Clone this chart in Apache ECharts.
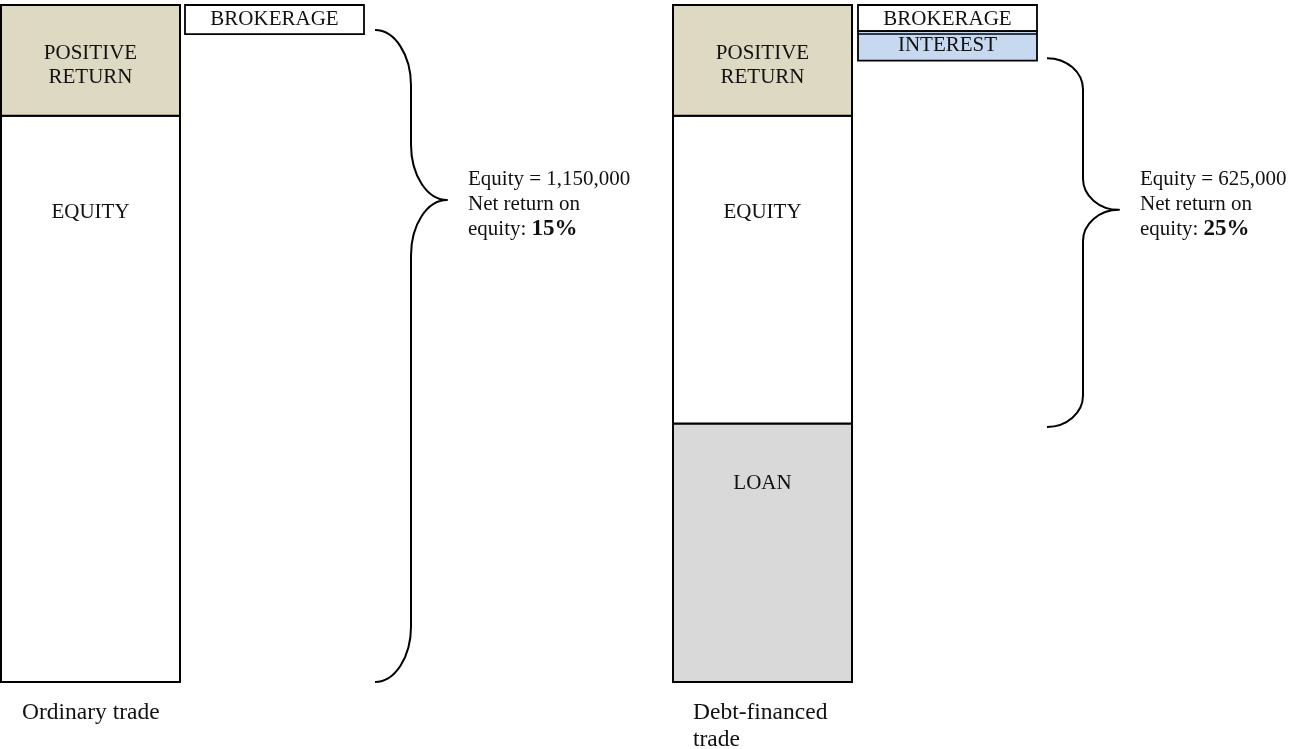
<!DOCTYPE html>
<html><head><meta charset="utf-8">
<script src="https://cdn.jsdelivr.net/npm/echarts@6/dist/echarts.min.js"></script>
<style>html,body{margin:0;padding:0;background:#fff}#chart{width:1290px;height:749px}</style>
</head><body><div id="chart"></div>
<script>
// ---- data ----
const categories = ['Ordinary trade', 'Debt-financed\ntrade'];
const loan = [0, 525000];
const equity = [1150000, 625000];
const positiveReturn = [225000, 225000];
const brokerage = [59000, 53000];
const interest = [0, 60000];
const equityAmountLabels = ['1,150,000', '625,000'];
const netReturnLabels = ['15%', '25%'];
const braceTop = [1324000, 1267000];
const braceTip = [979000, 959000];
const braceBottom = [0, 518000];
const segmentNames = ['LOAN', 'EQUITY', 'POSITIVE\nRETURN'];
const feeNames = ['BROKERAGE', 'INTEREST'];

// ---- layout / style (not data) ----
const layout = {
  barX: [[1, 180], [673, 852]],
  boxX: [[185, 364], [858, 1037]],
  braceX: [[375, 411, 447], [1047, 1083, 1119]],
  noteX: [468, 1140],
  noteY: 204,
  catX: [22, 693],
  catY: 699,
  segLabelOffset: [60, 97, 60]
};
const FONT = "'Liberation Serif','Times New Roman',serif";
const segFill = ['#d9d9d9', '#ffffff', '#ddd9c3'];
const feeFill = ['#ffffff', '#c6d9f1'];

// build item lists from data arrays
const blockData = [];
const feeData = [];
const braceData = [];
const catData = [];
categories.forEach((c, i) => {
  const segs = [loan[i], equity[i], positiveReturn[i]];
  let acc = 0;
  segs.forEach((v, s) => { blockData.push([i, s, acc, acc + v]); acc += v; });
  let top = acc;
  [brokerage[i], interest[i]].forEach((v, f) => { feeData.push([i, f, top - v, top]); top -= v; });
  braceData.push([i, braceTop[i], braceTip[i], braceBottom[i]]);
  catData.push([i, 0]);
});

function renderBlock(params, api) {
  const i = api.value(0), s = api.value(1), a = api.value(2), b = api.value(3);
  if (b - a <= 0) return null;
  const [x0, x1] = layout.barX[i];
  const p0 = api.coord([x0, b]);
  const p1 = api.coord([x1, a]);
  return {
    type: 'group',
    children: [
      { type: 'rect', shape: { x: p0[0], y: p0[1], width: p1[0] - p0[0], height: p1[1] - p0[1] },
        style: { fill: segFill[s], stroke: '#000', lineWidth: 2 } },
      { type: 'text', z2: 10,
        style: { text: segmentNames[s], x: (p0[0] + p1[0]) / 2, y: p0[1] + layout.segLabelOffset[s],
          align: 'center', verticalAlign: 'middle', font: '21px ' + FONT, fill: '#111', lineHeight: 24 } }
    ]
  };
}

function renderFee(params, api) {
  const i = api.value(0), f = api.value(1), a = api.value(2), b = api.value(3);
  if (b - a <= 0) return null;
  const [x0, x1] = layout.boxX[i];
  const p0 = api.coord([x0, b]);
  const p1 = api.coord([x1, a]);
  const children = [
    { type: 'rect', shape: { x: p0[0], y: p0[1], width: p1[0] - p0[0], height: p1[1] - p0[1] },
      style: { fill: feeFill[f], stroke: '#000', lineWidth: 1.8 } },
    { type: 'text', z2: 10,
      style: { text: feeNames[f], x: (p0[0] + p1[0]) / 2, y: p0[1] + 14,
        align: 'center', verticalAlign: 'middle', font: '21px ' + FONT, fill: '#111' } }
  ];
  if (f === 1) {
    children.push({ type: 'line', shape: { x1: p0[0], y1: p0[1] + 3, x2: p1[0], y2: p0[1] + 3 },
      style: { stroke: '#000', lineWidth: 1.5 } });
  }
  return { type: 'group', children };
}

function renderBrace(params, api) {
  const i = api.value(0);
  const [x0, xm, xt] = layout.braceX[i];
  const yT = api.coord([x0, api.value(1)])[1];
  const yP = api.coord([x0, api.value(2)])[1];
  const yB = api.coord([x0, api.value(3)])[1];
  const r = 0.085 * (yB - yT);
  const k = 0.552;
  const w1 = xm - x0, w2 = xt - xm;
  const f = (n) => n.toFixed(2);
  const d = [
    'M', f(x0), f(yT),
    'C', f(x0 + k * w1), f(yT), f(xm), f(yT + r - k * r), f(xm), f(yT + r),
    'L', f(xm), f(yP - r),
    'C', f(xm), f(yP - r + k * r), f(xt - k * w2), f(yP), f(xt), f(yP),
    'C', f(xt - k * w2), f(yP), f(xm), f(yP + r - k * r), f(xm), f(yP + r),
    'L', f(xm), f(yB - r),
    'C', f(xm), f(yB - r + k * r), f(x0 + k * w1), f(yB), f(x0), f(yB)
  ].join(' ');
  return {
    type: 'group',
    children: [
      { type: 'path', shape: { pathData: d },
        style: { stroke: '#000', lineWidth: 2, fill: null, lineJoin: 'round' } },
      { type: 'text', style: {
          text: 'Equity = ' + equityAmountLabels[i] + '\nNet return on\nequity: {b|' + netReturnLabels[i] + '}',
          x: layout.noteX[i], y: layout.noteY, align: 'left', verticalAlign: 'middle',
          font: '21px ' + FONT, fill: '#111', lineHeight: 25,
          rich: { b: { fontFamily: FONT, fontSize: 23, fontWeight: 'bold', fill: '#111', lineHeight: 25 } } } }
    ]
  };
}

function renderCat(params, api) {
  const i = api.value(0);
  return { type: 'text', style: { text: categories[i], x: layout.catX[i], y: layout.catY,
    align: 'left', verticalAlign: 'top', font: '23.5px ' + FONT, fill: '#111', lineHeight: 27 } };
}

const chart = echarts.init(document.getElementById('chart'), null, { renderer: 'canvas' });
chart.setOption({
  animation: false,
  backgroundColor: '#fff',
  grid: { left: 0, right: 0, top: 5, bottom: 67 },
  xAxis: { type: 'value', min: 0, max: 1290, show: false },
  yAxis: { type: 'value', min: 0, max: 1375000, show: false },
  series: [
    { type: 'custom', name: 'blocks', coordinateSystem: 'cartesian2d', renderItem: renderBlock, data: blockData, clip: false },
    { type: 'custom', name: 'fees', coordinateSystem: 'cartesian2d', renderItem: renderFee, data: feeData, clip: false },
    { type: 'custom', name: 'braces', coordinateSystem: 'cartesian2d', renderItem: renderBrace, data: braceData, clip: false },
    { type: 'custom', name: 'categories', coordinateSystem: 'cartesian2d', renderItem: renderCat, data: catData, clip: false }
  ]
});
</script></body></html>
